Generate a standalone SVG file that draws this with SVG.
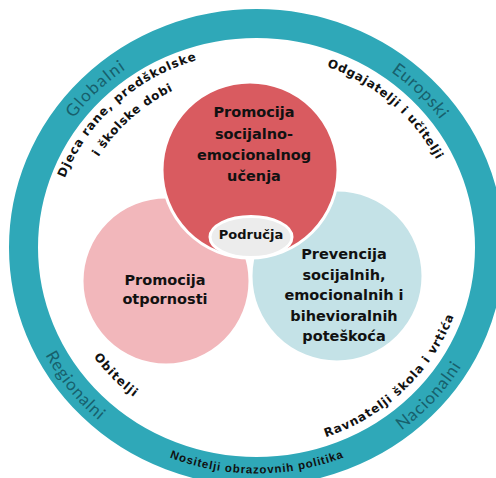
<svg xmlns="http://www.w3.org/2000/svg" width="496" height="478" viewBox="0 0 496 478">
<style>
.node{stroke:#fff;stroke-width:3}
.nt{font-family:"DejaVu Sans",sans-serif;font-weight:bold;font-size:14.5px;fill:#111;text-anchor:middle}
.ring{font-family:Lato,"Liberation Sans",sans-serif;font-size:17px;fill:#17606c;text-anchor:middle}
.lbl{font-family:"DejaVu Sans",sans-serif;font-weight:bold;font-size:12px;fill:#111;text-anchor:middle}
</style>
<defs>
<path id="rTop" d="M29.5,247.5 A227,218 0 1 1 483.5,247.5 A227,218 0 1 1 29.5,247.5"/>
<path id="rBot" d="M17.5,247.5 A239,230 0 1 0 495.5,247.5 A239,230 0 1 0 17.5,247.5"/>
<path id="nBot" d="M21.5,247.5 A235,226 0 1 0 491.5,247.5 A235,226 0 1 0 21.5,247.5"/>
<path id="i1" d="M51.5,247.5 A205,196 0 1 1 461.5,247.5 A205,196 0 1 1 51.5,247.5"/>
<path id="i2" d="M72.5,247.5 A184,176 0 1 1 440.5,247.5 A184,176 0 1 1 72.5,247.5"/>
<path id="iO" d="M54.5,247.5 A202,193 0 1 1 458.5,247.5 A202,193 0 1 1 54.5,247.5"/>
<path id="bO" d="M57.5,247.5 A199,190 0 1 0 455.5,247.5 A199,190 0 1 0 57.5,247.5"/>
<path id="bR" d="M46.5,247.5 A210,201 0 1 0 466.5,247.5 A210,201 0 1 0 46.5,247.5"/>
</defs>
<ellipse id="outer-ring" cx="256.5" cy="247.5" rx="233" ry="224" fill="none" stroke="#2fa8b8" stroke-width="29"/>
<g id="ring-labels">
<text class="ring"><textPath href="#rTop" startOffset="12.5%" textLength="72">Globalni</textPath></text>
<text class="ring"><textPath href="#rTop" startOffset="37.7%" textLength="69">Europski</textPath></text>
<text class="ring"><textPath href="#rBot" startOffset="10.5%" textLength="85">Regionalni</textPath></text>
<text class="ring"><textPath href="#rBot" startOffset="38.5%" textLength="88">Nacionalni</textPath></text>
<text class="lbl" style="font-family:'Liberation Sans',sans-serif;font-size:11.5px"><textPath href="#nBot" startOffset="25%" textLength="178">Nositelji obrazovnih politika</textPath></text>
</g>
<g id="stakeholders">
<text class="lbl"><textPath href="#i1" startOffset="12.9%" textLength="183">Djeca rane, predškolske</textPath></text>
<text class="lbl"><textPath href="#i2" startOffset="12.9%" textLength="101">i školske dobi</textPath></text>
<text class="lbl"><textPath href="#iO" startOffset="36.7%" textLength="147">Odgajatelji i učitelji</textPath></text>
<text class="lbl"><textPath href="#bO" startOffset="11.9%" textLength="57">Obitelji</textPath></text>
<text class="lbl"><textPath href="#bR" startOffset="37.5%" textLength="182">Ravnatelji škola i vrtića</textPath></text>
</g>
<g id="node-otpornost">
<circle class="node" cx="166" cy="281" r="84" fill="#f2b7bb"/>
<text class="nt" x="165" y="285">Promocija</text>
<text class="nt" x="165" y="304">otpornosti</text>
</g>
<g id="node-prevencija">
<circle class="node" cx="337" cy="276" r="86" fill="#c4e2e7"/>
</g>
<g id="node-sel">
<circle class="node" cx="250" cy="170" r="88" fill="#d95b60"/>
<text class="nt" x="254" y="117">Promocija</text>
<text class="nt" x="254" y="138.5">socijalno-</text>
<text class="nt" x="254" y="160">emocionalnog</text>
<text class="nt" x="254" y="181">učenja</text>
</g>
<g id="node-prevencija-text">
<text class="nt" x="344" y="259">Prevencija</text>
<text class="nt" x="344" y="279.5">socijalnih,</text>
<text class="nt" x="344" y="300">emocionalnih i</text>
<text class="nt" x="344" y="320.5">bihevioralnih</text>
<text class="nt" x="344" y="341">poteškoća</text>
</g>
<g id="node-podrucja">
<ellipse class="node" cx="251" cy="237" rx="41" ry="20.5" fill="#ececec"/>
<text class="nt" style="font-size:13px" x="251" y="239">Područja</text>
</g>
</svg>
